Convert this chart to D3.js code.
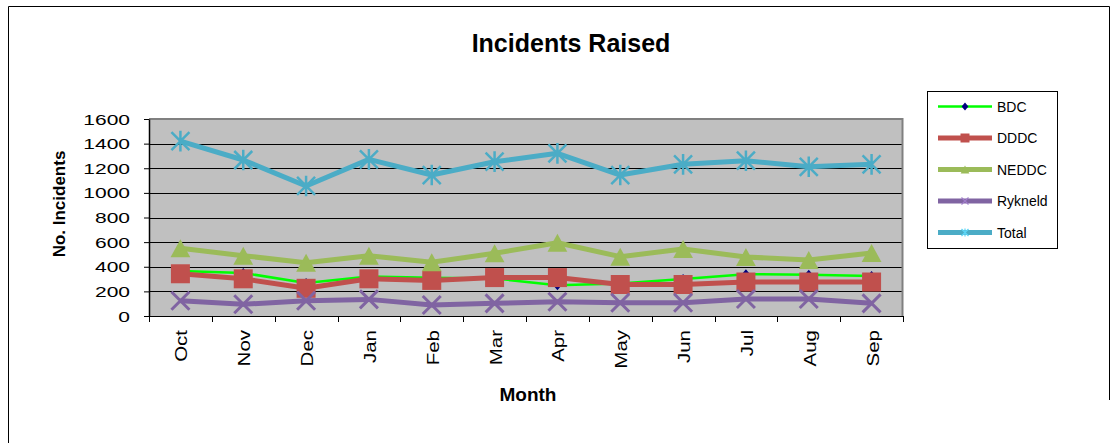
<!DOCTYPE html>
<html>
<head>
<meta charset="utf-8">
<script src="https://cdn.jsdelivr.net/npm/d3@7/dist/d3.min.js"></script>
<style>
  html, body { margin: 0; padding: 0; background: #ffffff; }
  svg { display: block; font-family: "Liberation Sans", Arial, sans-serif; }
</style>
</head>
<body>
<svg id="chart" width="1117" height="443"></svg>
<script>
// Monthly incidents raised, October to September
const months = ["Oct", "Nov", "Dec", "Jan", "Feb", "Mar", "Apr", "May", "Jun", "Jul", "Aug", "Sep"];
const bdc     = [365, 350, 268, 320, 310, 305, 250, 263, 300, 340, 335, 325];
const dddc    = [343, 302, 225, 302, 289, 312, 312, 256, 256, 276, 276, 276];
const neddc   = [550, 490, 433, 490, 437, 509, 595, 482, 544, 479, 455, 512];
const rykneld = [124, 95, 124, 135, 89, 103, 116, 108, 108, 138, 138, 103];
const total   = [1420, 1267, 1056, 1272, 1145, 1253, 1321, 1145, 1232, 1261, 1212, 1232];
const yTicks  = [0, 200, 400, 600, 800, 1000, 1200, 1400, 1600];
const seriesNames = ["BDC", "DDDC", "NEDDC", "Rykneld", "Total"];

const svg = d3.select("#chart");

// Plot area
const plot = { left: 149, right: 903, top: 119, bottom: 316 };

const x = d3.scaleBand().domain(months).range([plot.left, plot.right]).padding(0);
const y = d3.scaleLinear().domain([0, 1600]).range([plot.bottom, plot.top]);
const cx = m => x(m) + x.bandwidth() / 2;

// Outer chart frame
svg.append("path")
  .attr("d", "M8.5,443 V6.5 H1109.5 V400")
  .attr("fill", "none").attr("stroke", "#000").attr("stroke-width", 1);

// Title
svg.append("text")
  .attr("x", 571).attr("y", 52)
  .attr("text-anchor", "middle")
  .attr("font-size", 25).attr("font-weight", "bold")
  .text("Incidents Raised");

// Plot background
svg.append("rect")
  .attr("x", plot.left).attr("y", plot.top)
  .attr("width", plot.right - plot.left).attr("height", plot.bottom - plot.top)
  .attr("fill", "#c0c0c0");

// Gridlines
svg.append("g")
  .selectAll("line")
  .data(yTicks.filter(v => v > 0 && v < 1600))
  .join("line")
  .attr("x1", plot.left).attr("x2", plot.right)
  .attr("y1", d => Math.round(y(d)) + 0.5).attr("y2", d => Math.round(y(d)) + 0.5)
  .attr("stroke", "#000").attr("stroke-width", 1);

// Plot area border (top and right, grey)
svg.append("path")
  .attr("d", `M${plot.left},${plot.top} H${plot.right - 0.5} V${plot.bottom}`)
  .attr("fill", "none").attr("stroke", "#808080").attr("stroke-width", 2);

// Y axis
const yAxis = svg.append("g")
  .attr("transform", `translate(${plot.left},0)`)
  .call(d3.axisLeft(y).tickValues(yTicks).tickSize(5).tickSizeOuter(0).tickPadding(0).tickFormat(d3.format("d")));
yAxis.select(".domain").attr("stroke", "#000").attr("stroke-width", 1.5);
yAxis.selectAll(".tick line").attr("stroke", "#000");
yAxis.selectAll(".tick text")
  .attr("font-family", "'Liberation Sans', Arial, sans-serif")
  .attr("font-size", 14)
  .attr("fill", "#000")
  .attr("text-anchor", "end")
  .attr("x", 0).attr("dy", null).attr("y", 5)
  .attr("transform", "translate(-19,0) scale(1.5,1)");

// X axis line and tick marks at category boundaries
const xAxis = svg.append("g")
  .attr("transform", `translate(0,${plot.bottom})`)
  .call(d3.axisBottom(x).tickSize(0).tickFormat(""));
xAxis.select(".domain").attr("stroke", "#000").attr("stroke-width", 1);
svg.append("g")
  .selectAll("line")
  .data(months.map(m => x(m)).concat([plot.right]))
  .join("line")
  .attr("x1", d => Math.round(d) + 0.5).attr("x2", d => Math.round(d) + 0.5)
  .attr("y1", plot.bottom).attr("y2", plot.bottom + 6)
  .attr("stroke", "#000");

// Month labels, rotated
svg.append("g")
  .selectAll("text")
  .data(months)
  .join("text")
  .attr("transform", m => `translate(${cx(m) + 7},330) rotate(-90) scale(1.28,1)`)
  .attr("text-anchor", "end")
  .attr("font-size", 16)
  .text(m => m);

// Axis titles
svg.append("text")
  .attr("transform", "translate(64.5,204) rotate(-90)")
  .attr("text-anchor", "middle")
  .attr("font-size", 17).attr("font-weight", "bold")
  .text("No. Incidents");

svg.append("text")
  .attr("x", 528).attr("y", 401)
  .attr("text-anchor", "middle")
  .attr("font-size", 19).attr("font-weight", "bold")
  .text("Month");

// Marker shapes
function markerPath(kind, s) {
  switch (kind) {
    case "diamond": return `M0,${-s} L${s * 0.85},0 L0,${s} L${-s * 0.85},0 Z`;
    case "square":  return `M${-s},${-s} H${s} V${s} H${-s} Z`;
    case "triangle": return `M0,${-s} L${s * 1.1},${s} L${-s * 1.1},${s} Z`;
    case "cross":   return `M${-s},${-s} L${s},${s} M${s},${-s} L${-s},${s}`;
    case "star":    return `M${-s},${-s} L${s},${s} M${s},${-s} L${-s},${s} M0,${-s * 1.15} V${s * 1.15}`;
  }
}

const series = [
  { name: seriesNames[0], values: bdc,     line: "#00ff00", width: 2.5, marker: "diamond",  mColor: "#000080", filled: true,  size: 5,   legSize: 4 },
  { name: seriesNames[1], values: dddc,    line: "#c0504d", width: 5,   marker: "square",   mColor: "#c0504d", filled: true,  size: 9.5, legSize: 4.5 },
  { name: seriesNames[2], values: neddc,   line: "#9bbb59", width: 5,   marker: "triangle", mColor: "#9bbb59", filled: true,  size: 9,   legSize: 4 },
  { name: seriesNames[3], values: rykneld, line: "#8064a2", width: 5,   marker: "cross",    mColor: "#8064a2", filled: false, size: 9,   legSize: 3.5, mStroke: 3 },
  { name: seriesNames[4], values: total,   line: "#4bacc6", width: 5,   marker: "star",     mColor: "#4bacc6", filled: false, size: 9,   legSize: 3.5, mStroke: 2.5 }
];

const lineGen = d3.line()
  .x((d, i) => cx(months[i]))
  .y(d => y(d));

series.forEach(s => {
  const g = svg.append("g");
  g.append("path")
    .attr("d", lineGen(s.values))
    .attr("fill", "none")
    .attr("stroke", s.line)
    .attr("stroke-width", s.width)
    .attr("stroke-linejoin", "round");
  g.selectAll("path.marker")
    .data(s.values)
    .join("path")
    .attr("class", "marker")
    .attr("transform", (d, i) => `translate(${cx(months[i])},${y(d)})`)
    .attr("d", markerPath(s.marker, s.size))
    .attr("fill", s.filled ? s.mColor : "none")
    .attr("stroke", s.mColor)
    .attr("stroke-width", s.filled ? 0 : s.mStroke);
});

// Legend
const legend = svg.append("g");
legend.append("rect")
  .attr("x", 927.5).attr("y", 91.5)
  .attr("width", 130).attr("height", 157)
  .attr("fill", "#fff").attr("stroke", "#000").attr("stroke-width", 1);

series.forEach((s, i) => {
  const ly = 106.5 + i * 31.5;
  legend.append("line")
    .attr("x1", 938).attr("x2", 992)
    .attr("y1", ly).attr("y2", ly)
    .attr("stroke", s.line).attr("stroke-width", s.width);
  legend.append("path")
    .attr("transform", `translate(965,${ly})`)
    .attr("d", markerPath(s.marker, s.legSize))
    .attr("fill", s.filled ? s.mColor : "none")
    .attr("stroke", s.filled ? "none" : d3.color(s.mColor).brighter(0.6))
    .attr("stroke-width", 1.2);
  legend.append("text")
    .attr("x", 997).attr("y", ly + 5)
    .attr("font-size", 14)
    .text(s.name);
});
</script>
</body>
</html>
